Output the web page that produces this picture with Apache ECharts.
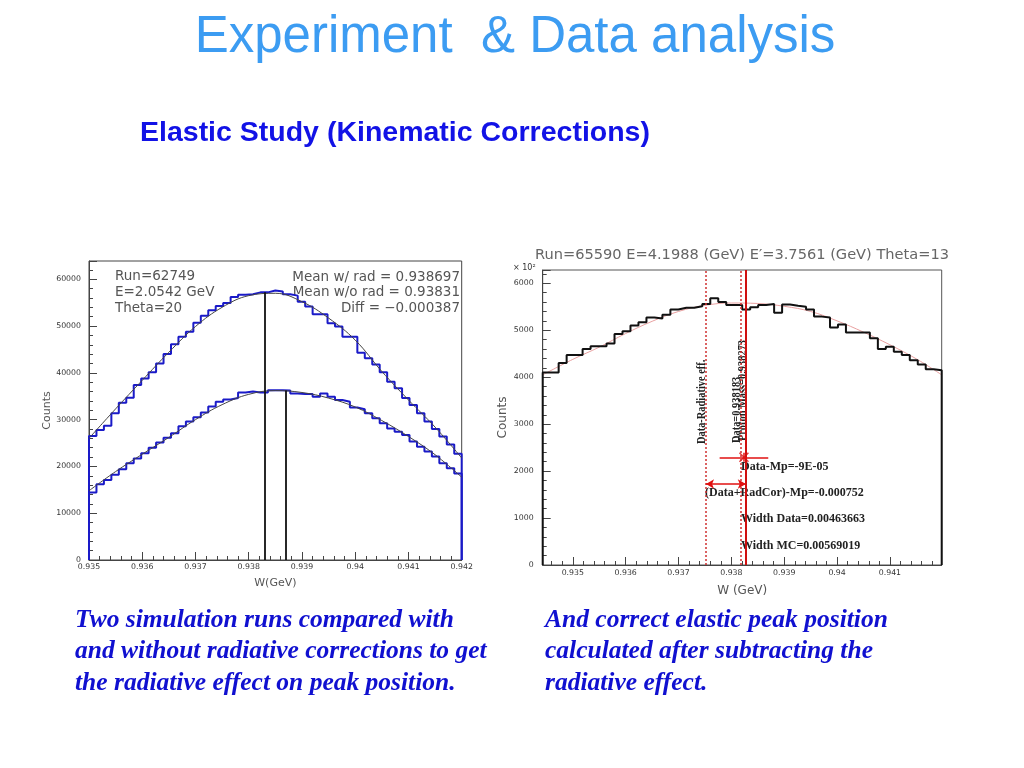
<!DOCTYPE html>
<html>
<head>
<meta charset="utf-8">
<script src="https://cdn.jsdelivr.net/npm/echarts@6/dist/echarts.min.js"></script>
<style>html,body{margin:0;padding:0;background:#fff}#c{width:1024px;height:768px}</style>
</head>
<body>
<div id="c"></div>
<script>
// ---------- Left chart data (simulation) ----------
const leftBinStart = 0.935;
const leftBinWidth = 0.00014;
const leftUpperHist = [26500,27800,28700,31350,33600,34700,37400,38800,40100,42000,
  44000,46100,47700,48800,50700,52200,53400,54300,54900,56200,
  56700,56800,57200,57200,57600,57400,56800,56500,55200,54200,
  52500,52500,50600,49900,47700,47700,44300,43100,41800,40100,
  38100,36700,34600,33100,31350,29600,28000,26400,24700,22700];
const leftLowerHist = [14400,16200,17100,18200,19400,20700,21700,22800,24000,25100,
  26100,27100,28600,29600,30500,31500,32800,33800,34300,34600,
  35800,36000,35800,35800,36300,36300,36200,35600,35500,35500,
  34900,35600,34900,34200,33800,32600,32200,31350,30300,29200,
  28100,27400,26700,25300,24200,23200,22100,20700,19600,18500];
const leftFitX = [0.935,0.9355,0.936,0.9365,0.937,0.9375,0.938,0.9385,0.939,0.9395,0.940,0.9405,0.941,0.9415,0.942];
const leftUpperFit = [26000,32300,38400,44400,49900,54000,56500,57000,55200,51700,47000,40300,34200,28400,21800];
const leftLowerFit = [14800,18900,22600,26200,30000,33200,35400,36200,35800,34600,32700,29800,26400,22500,17700];
const leftMeanLines = [[0.93831, 57200], [0.938697, 36200]];
const leftXTicks = [0.935,0.936,0.937,0.938,0.939,0.940,0.941,0.942];
const leftInfoL = ['Run=62749','E=2.0542 GeV','Theta=20'];
const leftInfoR = ['Mean w/ rad = 0.938697','Mean w/o rad = 0.93831','Diff = \u22120.000387'];

// ---------- Right chart data (experiment) ----------
const rightBinStart = 0.93443;
const rightBinWidth = 0.000151;
const rightYMax = 6283;
const rightHist = [4100,4100,4300,4470,4470,4600,4660,4660,4720,4920,
  4980,5100,5170,5270,5250,5330,5440,5480,5480,5510,
  5560,5680,5600,5540,5540,5440,5490,5540,5560,5370,
  5550,5520,5500,5440,5290,5270,5060,5120,4950,4950,
  4950,4830,4600,4650,4540,4470,4360,4270,4170,4150];
const rightFitX = [0.93443,0.935,0.9355,0.936,0.9365,0.937,0.9375,0.938,0.9385,0.939,0.9395,0.940,0.9405,0.941,0.9415,0.94198];
const rightFitY = [4050,4380,4640,4930,5190,5400,5530,5580,5570,5510,5400,5200,4960,4690,4390,4050];
const radCorX = 0.937521;   // Data + radiative correction
const dataMeanX = 0.938183; // Data
const protonMassX = 0.938273;
const markerPoint = [0.938238, 2294];
const markerErr = [0.00046, 95];
const arrowY = 1725;
const rightXTicks = [0.935,0.936,0.937,0.938,0.939,0.940,0.941];
const rightTitle = 'Run=65590 E=4.1988 (GeV) E\u2032=3.7561 (GeV) Theta=13';

// ---------- helpers ----------
function histData(start, width, vals) {
  const d = [[start, 0]];
  vals.forEach((v, i) => d.push([start + i * width, v]));
  d.push([start + vals.length * width, vals[vals.length - 1]]);
  d.push([start + vals.length * width, 0]);
  return d;
}
function zip(xs, ys) { return xs.map((x, i) => [x, ys[i]]); }
function minorTicks(lo, hi, step) {
  const out = [];
  for (let k = Math.ceil(lo / step - 1e-9); k * step <= hi + 1e-12; k++) out.push(+(k * step).toFixed(6));
  return out;
}
function fmt(v) { return String(parseFloat(v.toFixed(3))); }
function fmtInt(v) { return String(Math.round(v)); }
function vline(x, y0, y1, style) {
  return [{coord: [x, y0], symbol: 'none'}, {coord: [x, y1], symbol: 'none', lineStyle: style}];
}

const axisFont = 'DejaVu Sans';
const rootGray = '#555';

const chart = echarts.init(document.getElementById('c'), null, {renderer: 'canvas'});

const graphics = [];
function txt(x, y, text, style, extra) {
  graphics.push(Object.assign({type: 'text', x: x, y: y, silent: true,
    style: Object.assign({text: text, textVerticalAlign: 'middle'}, style)}, extra || {}));
}
// Slide titles
txt(515, 38, 'Experiment  & Data analysis', {font: '51px "Liberation Sans", Arial', fill: '#3c9cf2', textAlign: 'center'});
txt(140, 133, 'Elastic Study (Kinematic Corrections)', {font: 'bold 28.5px "Liberation Sans", Arial', fill: '#1212e6', textAlign: 'left'});
// Captions
const capFont = 'italic bold 25.5px "Liberation Serif", "Times New Roman", serif';
['Two simulation runs compared with','and without radiative corrections to get','the radiative effect on peak position.']
  .forEach((s, i) => txt(75, 620 + i * 31.5, s, {font: capFont, fill: '#1010d0', textAlign: 'left'}));
['And correct elastic peak position','calculated after subtracting the','radiative effect.']
  .forEach((s, i) => txt(545, 620 + i * 31.5, s, {font: capFont, fill: '#1010d0', textAlign: 'left'}));
// Left info box texts
leftInfoL.forEach((s, i) => txt(115, 276 + i * 16, s, {font: '13.5px "DejaVu Sans"', fill: rootGray, textAlign: 'left'}));
leftInfoR.forEach((s, i) => txt(460, 277 + i * 15.5, s, {font: '13.5px "DejaVu Sans"', fill: rootGray, textAlign: 'right'}));
// Right title and scale
txt(742, 255, rightTitle, {font: '14.6px "DejaVu Sans"', fill: '#666', textAlign: 'center'});
txt(513, 268, '\u00d7 10\u00b2', {font: '8px "DejaVu Sans"', fill: '#333', textAlign: 'left'});
// Right annotations
const annFont = 'bold 12px "Liberation Serif", "Times New Roman", serif';
txt(741, 466.5, 'Data-Mp=-9E-05', {font: annFont, fill: '#222', textAlign: 'left'});
txt(705, 493, '(Data+RadCor)-Mp=-0.000752', {font: annFont, fill: '#222', textAlign: 'left'});
txt(741, 519, 'Width Data=0.00463663', {font: annFont, fill: '#222', textAlign: 'left'});
txt(741, 545.5, 'Width MC=0.00569019', {font: annFont, fill: '#222', textAlign: 'left'});
txt(702, 444, 'Data-Radiative eff.', {font: 'bold 13px "Liberation Serif", serif', fill: '#222', textAlign: 'left'}, {rotation: Math.PI / 2, scaleX: 0.8});
txt(737, 443, 'Data=0.938183', {font: 'bold 13px "Liberation Serif", serif', fill: '#222', textAlign: 'left'}, {rotation: Math.PI / 2, scaleX: 0.8});
txt(743, 441, 'Proton Mass=0.938273', {font: 'bold 13px "Liberation Serif", serif', fill: '#222', textAlign: 'left'}, {rotation: Math.PI / 2, scaleX: 0.8});

const tickLabelStyle = {fontFamily: axisFont, fontSize: 7.8, color: '#333'};

const option = {
  backgroundColor: '#fff',
  animation: false,
  grid: [
    {left: 89, top: 261, width: 372.7, height: 299, show: true, borderColor: '#444', borderWidth: 1, backgroundColor: 'transparent'},
    {left: 542.7, top: 270, width: 399, height: 295, show: true, borderColor: '#555', borderWidth: 1, backgroundColor: 'transparent'}
  ],
  xAxis: [
    {type: 'value', gridIndex: 0, min: 0.935, max: 0.942, position: 'bottom',
      name: 'W(GeV)', nameLocation: 'middle', nameGap: 18, nameTextStyle: {fontFamily: axisFont, fontSize: 11, color: rootGray},
      axisLine: {show: true, onZero: false, lineStyle: {color: '#444'}},
      axisTick: {show: true, inside: true, length: 8, customValues: leftXTicks, lineStyle: {color: '#444'}},
      axisLabel: Object.assign({customValues: leftXTicks, formatter: fmt, margin: 3}, tickLabelStyle),
      splitLine: {show: false}},
    {type: 'value', gridIndex: 1, min: rightBinStart, max: rightBinStart + 50 * rightBinWidth, position: 'bottom',
      name: 'W (GeV)', nameLocation: 'middle', nameGap: 20, nameTextStyle: {fontFamily: axisFont, fontSize: 12, color: rootGray},
      axisLine: {show: true, onZero: false, lineStyle: {color: '#444'}},
      axisTick: {show: true, inside: true, length: 8, customValues: rightXTicks, lineStyle: {color: '#444'}},
      axisLabel: Object.assign({customValues: rightXTicks, formatter: fmt, margin: 4}, tickLabelStyle),
      splitLine: {show: false}},
    {type: 'value', gridIndex: 0, min: 0.935, max: 0.942, position: 'bottom',
      axisLine: {show: false}, axisLabel: {show: false}, splitLine: {show: false},
      axisTick: {show: true, inside: true, length: 4, customValues: minorTicks(0.935, 0.942, 0.0002), lineStyle: {color: '#444'}}},
    {type: 'value', gridIndex: 1, min: rightBinStart, max: rightBinStart + 50 * rightBinWidth, position: 'bottom',
      axisLine: {show: false}, axisLabel: {show: false}, splitLine: {show: false},
      axisTick: {show: true, inside: true, length: 4, customValues: minorTicks(0.9346, 0.9418, 0.0002), lineStyle: {color: '#444'}}}
  ],
  yAxis: [
    {type: 'value', gridIndex: 0, min: 0, max: 63900, interval: 10000,
      name: 'Counts', nameLocation: 'middle', nameGap: 33, nameTextStyle: {fontFamily: axisFont, fontSize: 11, color: rootGray},
      axisLine: {show: true, lineStyle: {color: '#444'}},
      axisTick: {show: true, inside: true, length: 8, lineStyle: {color: '#444'}},
      minorTick: {show: true, splitNumber: 5, length: 4, lineStyle: {color: '#444'}},
      axisLabel: Object.assign({margin: 8, showMaxLabel: false, formatter: fmtInt}, tickLabelStyle),
      splitLine: {show: false}},
    {type: 'value', gridIndex: 1, min: 0, max: rightYMax, interval: 1000,
      name: 'Counts', nameLocation: 'middle', nameGap: 34, nameTextStyle: {fontFamily: axisFont, fontSize: 12, color: rootGray},
      axisLine: {show: true, lineStyle: {color: '#444'}},
      axisTick: {show: true, inside: true, length: 8, lineStyle: {color: '#444'}},
      minorTick: {show: true, splitNumber: 5, length: 4, lineStyle: {color: '#444'}},
      axisLabel: Object.assign({margin: 9, showMaxLabel: false, formatter: fmtInt}, tickLabelStyle),
      splitLine: {show: false}}
  ],
  series: [
    {type: 'line', xAxisIndex: 0, yAxisIndex: 0, step: 'end', showSymbol: false, symbol: 'none', clip: false,
      data: histData(leftBinStart, leftBinWidth, leftUpperHist), lineStyle: {color: '#1a1ac8', width: 2}},
    {type: 'line', xAxisIndex: 0, yAxisIndex: 0, step: 'end', showSymbol: false, symbol: 'none', clip: false,
      data: histData(leftBinStart, leftBinWidth, leftLowerHist), lineStyle: {color: '#1a1ac8', width: 2}},
    {type: 'line', xAxisIndex: 0, yAxisIndex: 0, smooth: 0.4, showSymbol: false, symbol: 'none',
      data: zip(leftFitX, leftUpperFit), lineStyle: {color: '#444', width: 1}},
    {type: 'line', xAxisIndex: 0, yAxisIndex: 0, smooth: 0.4, showSymbol: false, symbol: 'none',
      data: zip(leftFitX, leftLowerFit), lineStyle: {color: '#444', width: 1},
      markLine: {silent: true, label: {show: false}, animation: false,
        data: leftMeanLines.map(m => vline(m[0], 0, m[1], {color: '#111', width: 1.8, type: 'solid'}))}},
    {type: 'line', xAxisIndex: 1, yAxisIndex: 1, smooth: 0.4, showSymbol: false, symbol: 'none',
      data: zip(rightFitX, rightFitY), lineStyle: {color: '#e8a0a0', width: 1}},
    {type: 'line', xAxisIndex: 1, yAxisIndex: 1, step: 'end', showSymbol: false, symbol: 'none', clip: false,
      data: histData(rightBinStart, rightBinWidth, rightHist), lineStyle: {color: '#111', width: 2},
      markLine: {silent: true, label: {show: false}, animation: false,
        data: [
          vline(radCorX, 0, rightYMax, {color: '#d03030', width: 1.5, type: [2, 2]}),
          vline(dataMeanX, 0, rightYMax, {color: '#d03030', width: 1.5, type: [2, 2]}),
          vline(protonMassX, 0, rightYMax, {color: '#d01010', width: 2, type: 'solid'})
        ]}},
    {type: 'scatter', xAxisIndex: 1, yAxisIndex: 1, symbol: 'path://M0,0L10,10M10,0L0,10', symbolSize: 9,
      itemStyle: {color: 'none', borderColor: '#e01010', borderWidth: 1.5},
      data: [markerPoint],
      markLine: {silent: true, label: {show: false}, animation: false,
        data: [
          [{coord: [markerPoint[0] - markerErr[0], markerPoint[1]], symbol: 'none'}, {coord: [markerPoint[0] + markerErr[0], markerPoint[1]], symbol: 'none', lineStyle: {color: '#e01010', width: 1.5, type: 'solid'}}],
          vline(markerPoint[0], markerPoint[1] - markerErr[1], markerPoint[1] + markerErr[1], {color: '#e01010', width: 1.5, type: 'solid'}),
          [{coord: [radCorX, arrowY], symbol: 'arrow', symbolSize: [7, 8]}, {coord: [protonMassX, arrowY], symbol: 'arrow', symbolSize: [7, 8], lineStyle: {color: '#e01010', width: 1.5, type: 'solid'}}]
        ]}}
  ],
  graphic: graphics
};
chart.setOption(option);
</script>
</body>
</html>
